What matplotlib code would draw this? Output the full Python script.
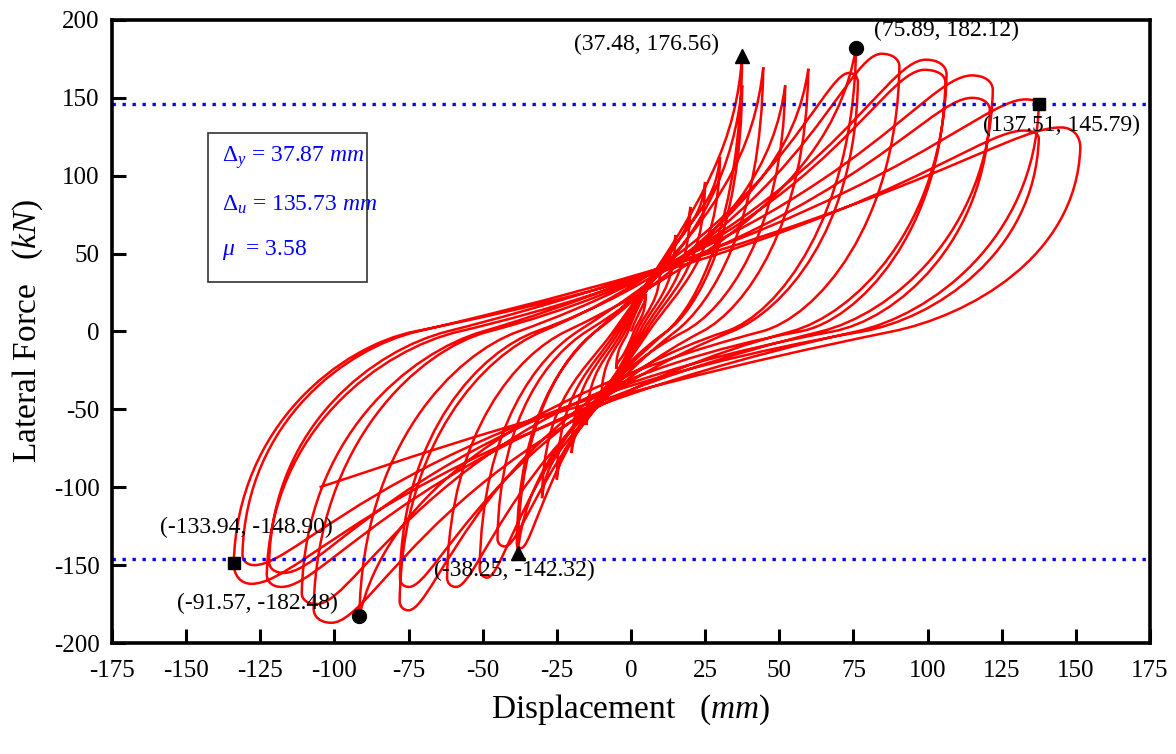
import matplotlib
matplotlib.use("Agg")
import matplotlib.pyplot as plt
from matplotlib.path import Path
from matplotlib.patches import PathPatch, Rectangle

plt.rcParams['font.family'] = ['Liberation Serif', 'DejaVu Serif']
plt.rcParams['mathtext.fontset'] = 'custom'
plt.rcParams['mathtext.rm'] = 'Liberation Serif'
plt.rcParams['mathtext.it'] = 'Liberation Serif:italic'
plt.rcParams['axes.unicode_minus'] = False

# cycle data (push half first, then pull half)
pos_disp = [5, 10, 15, 20, 25, 30, 37.48, 37.5, 44.6, 52.0, 59.8, 75.89, 76.5,
            90.5, 106.4, 106.0, 122.0, 121.0, 137.51, 137.5, 151.5]
pos_force = [24, 44, 62, 80, 96, 112, 176.56, 158, 169.7, 158, 168.7, 182.12, 166,
             178.3, 174.5, 168, 164.4, 150, 149, 129, 131]
pos_round = [0, 0, 0, 0, 0, 0, 0, 0, 0, 0, 0, 0, 3,
             6, 7, 7, 7, 6, 4.5, 5, 6.5]
pos_fend = [24, 44, 62, 80, 96, 112, 176.56, 158, 169.7, 158, 168.7, 182.12, 160,
            170, 165, 160, 155, 142, 145.79, 124, 118]
pos_zero = [1, 2, 3, 4, 5, 6, 12, 12, 15, 18, 24, 32, 34,
            44, 54, 57, 64, 68, 76, 78, 88]
pos_pinch = [-5, -9, -12, -14, -16, -17, -20, -16, -22, -18, -24, -20, -26,
             -22, -28, -20, -30, -24, -32, -26, -34]

neg_disp = [-5, -10, -15, -20, -25, -30, -38.25, -38.5, -45, -51, -62, -78, -77.9,
            -91.57, -107, -111, -122.8, -122, -133.94, -131]
neg_force = [-24, -44, -60, -78, -95, -107, -142.32, -139, -138, -158, -164, -179, -164,
             -182.48, -187, -175, -164, -155, -162, -150]
neg_round = [0, 0, 0, 0, 0, 0, 0, 1.5, 2.5, 2.5, 3, 3, 3,
             0, 6, 5, 5, 5, 6, 4]
neg_fend = [-24, -44, -60, -78, -95, -107, -142.32, -136, -133, -152, -158, -173, -158,
            -182.48, -178, -168, -156, -148, -148.90, -143]
neg_zero = [-1, -2, -3, -4, -5, -6, -12, -12, -15, -18, -22, -30, -32,
            -38, -48, -50, -58, -62, -73, -72]
neg_pinch = [5, 8, 11, 13, 15, 16, 17, 20, 18, 22, 20, 24, 22,
             26, 24, 28, 26, 30, 28, 32]

end_disp, end_force = -105, -100

# key points
key_d = [37.48, 75.89, 137.51, -38.25, -91.57, -133.94]
key_f = [176.56, 182.12, 145.79, -142.32, -182.48, -148.90]
key_m = ['^', 'o', 's', '^', 'o', 's']
key_lbl = ['(37.48, 176.56)', '(75.89, 182.12)', '(137.51, 145.79)',
           '(-38.25, -142.32)', '(-91.57, -182.48)', '(-133.94, -148.90)']
lbl_d = [5.4, 106.5, 145.3, -39.4, -125.8, -129.8]
lbl_f = [184.3, 193.3, 132.3, -153.5, -174.6, -125.8]

yield_line = [145.79, -145.98]


def half_cycle(verts, x0, s0, sg, dmax, f, r, fe, z, pinch):
    # bezier pieces: reload from zero crossing -> peak -> unload to next zero crossing
    dT = dmax - sg * r
    span = abs(dT - x0)
    k = 0.75 * span
    c1 = (x0 + sg * k, sg * s0 * k)
    if r > 0:
        c2 = (dT - sg * (r + 0.06 * span), f)
    else:
        c2 = (dmax - sg * 0.05 * span, f - sg * 0.3 * abs(f))
    verts += [c1, c2, (dT, f)]
    if r > 0:
        verts += [(dT + sg * 0.6 * r, f), (dmax, fe + 0.6 * (f - fe)), (dmax, fe)]
    s1 = abs(pinch / z)
    u = abs(dmax - z)
    verts += [(dmax - sg * 0.02 * u, 0.4 * fe), (z + sg * 0.4 * u, sg * s1 * 0.4 * u), (z, 0)]
    return z, s1


verts = [(0, 0)]
x0, s0 = 0, pos_force[0] / pos_disp[0]
for i in range(len(pos_disp)):
    x0, s0 = half_cycle(verts, x0, s0, 1, pos_disp[i], pos_force[i], pos_round[i],
                        pos_fend[i], pos_zero[i], pos_pinch[i])
    if i < len(neg_disp):
        x0, s0 = half_cycle(verts, x0, s0, -1, neg_disp[i], neg_force[i], neg_round[i],
                            neg_fend[i], neg_zero[i], neg_pinch[i])
span = abs(x0 - end_disp)
verts += [(x0 - 0.55 * span, -s0 * 0.55 * span), (end_disp + 20, end_force + 12),
          (end_disp, end_force)]
codes = [Path.MOVETO] + [Path.CURVE4] * (len(verts) - 1)

fig = plt.figure(figsize=(11.76, 7.54), dpi=100)
ax = fig.add_axes([0.0952, 0.1472, 0.8827, 0.8263])

ax.add_patch(PathPatch(Path(verts, codes), fill=False, edgecolor='#ff0000', lw=1.8))

for y in yield_line:
    ax.axhline(y, color='#0000ff', lw=2.4, linestyle=(0, (1, 2)), zorder=1)

for d, f, m in zip(key_d, key_f, key_m):
    ax.plot(d, f, marker=m, color='black', ms=10 if m != 's' else 8, zorder=5)
for d, f, t in zip(lbl_d, lbl_f, key_lbl):
    ax.text(d, f, t, fontsize=17, ha='center', va='center', zorder=6)

# parameter box
ax.add_patch(Rectangle((0.0925, 0.5795), 0.1532, 0.2391, transform=ax.transAxes,
                       fill=False, edgecolor='#333333', lw=1.2, zorder=6))
box_txt = [r'$\Delta_{y}$ = 37.87 $mm$', r'$\Delta_{u}$ = 135.73 $mm$', r'$\mu$  = 3.58']
for j, t in enumerate(box_txt):
    ax.text(0.106, [0.7785, 0.703, 0.6308][j], t, transform=ax.transAxes, color='#0000ff',
            fontsize=17, ha='left', va='center', zorder=7)

ax.set_xlim(-175, 175)
ax.set_ylim(-200, 200)
ax.set_xticks(range(-175, 176, 25))
ax.set_yticks(range(-200, 201, 50))
ax.tick_params(direction='in', length=10, width=2.2, labelsize=18, top=False, right=False)
ax.tick_params(axis='x', pad=12)
ax.tick_params(axis='y', pad=9)
for sp in ax.spines.values():
    sp.set_linewidth(2.6)

ax.set_xlabel(r'Displacement   ($mm$)', fontsize=24, labelpad=8)
ax.set_ylabel(r'Lateral Force   ($kN$)', fontsize=24, labelpad=6)

fig.savefig('out.png', dpi=100)
